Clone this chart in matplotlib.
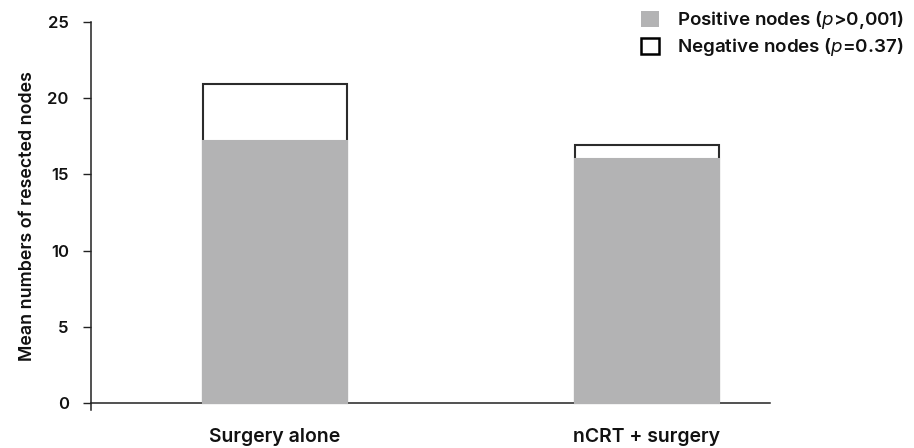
import matplotlib
matplotlib.use("Agg")
import matplotlib.pyplot as plt
from matplotlib.patches import Patch

plt.rcParams['font.family'] = ['Inter', 'DejaVu Sans']
plt.rcParams['mathtext.fontset'] = 'custom'
plt.rcParams['mathtext.it'] = 'Inter:italic'
plt.rcParams['mathtext.rm'] = 'Inter'

categories = ["Surgery alone", "nCRT + surgery"]
positive_nodes = [17.2, 16.0]
negative_nodes = [3.7, 0.9]
legend_labels = ["Positive nodes ($p$>0,001)", "Negative nodes ($p$=0.37)"]
y_ticks = [0, 5, 10, 15, 20, 25]

gray = "#b3b3b4"
edge = "#2b2b2b"

fig = plt.figure(figsize=(9.14, 4.48), dpi=100)
ax = fig.add_axes([91/914, 1 - 410/448, (770-91)/914, (410-22)/448])

x = list(range(len(categories)))
totals = [p + n for p, n in zip(positive_nodes, negative_nodes)]
width = 0.388
ax.bar(x, totals, width=width, color="white", edgecolor=edge, linewidth=1.5, zorder=2)
ax.bar(x, positive_nodes, width=width, color=gray, edgecolor=gray, linewidth=1.5, zorder=3)

ax.set_xlim(-0.495, 1.332)
ax.set_ylim(-0.46, 25)
ax.spines['top'].set_visible(False)
ax.spines['right'].set_visible(False)
ax.spines['bottom'].set_position(('data', 0))
for s in ('left', 'bottom'):
    ax.spines[s].set_linewidth(1.1)
    ax.spines[s].set_color("#222222")
ax.spines['left'].set_bounds(-0.46, 25)

ax.set_yticks(y_ticks)
ax.set_yticklabels([str(t) for t in y_ticks])
ax.tick_params(axis='y', length=6, width=1.0, pad=10, labelsize=12, colors="#222222", labelcolor="#111111")
ax.set_xticks(x)
ax.set_xticklabels(categories, fontsize=14, fontweight='semibold')
ax.tick_params(axis='x', length=0, pad=18, labelcolor="#111111")
for lab in ax.get_yticklabels():
    lab.set_fontweight('semibold')

ax.set_ylabel("Mean numbers of resected nodes", fontsize=12.8, fontweight='semibold', labelpad=8, color="#111111")

handles = [Patch(facecolor=gray, edgecolor='none'),
           Patch(facecolor='white', edgecolor='black', linewidth=1.8)]
leg = fig.legend(handles, legend_labels, loc='upper right', bbox_to_anchor=(1.0, 1.0),
                 frameon=False, fontsize=13.5, handlelength=0.95, handleheight=0.95,
                 handletextpad=1.0, labelspacing=0.25, borderaxespad=0.1)
for t in leg.get_texts():
    t.set_fontweight('semibold')
    t.set_color("#111111")

fig.savefig("out.png", dpi=100)
